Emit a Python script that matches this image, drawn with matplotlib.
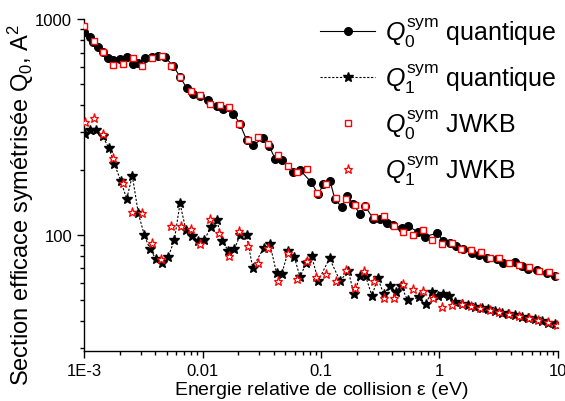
import numpy as np
import matplotlib
matplotlib.use("Agg")
import matplotlib.pyplot as plt
from matplotlib.ticker import LogLocator, FixedLocator, FixedFormatter, NullFormatter

plt.rcParams['font.family'] = ['Liberation Sans', 'DejaVu Sans']
plt.rcParams['mathtext.fontset'] = 'custom'
plt.rcParams['mathtext.rm'] = 'Liberation Sans'
plt.rcParams['mathtext.it'] = 'Liberation Sans:italic'
plt.rcParams['mathtext.bf'] = 'Liberation Sans:bold'

# Q0 sym, quantum calculation (energy in eV, cross section in A^2)
e_q0 = [0.001, 0.001124, 0.001198, 0.001313, 0.001455, 0.001604, 0.001757, 0.002013,
        0.002293, 0.002576, 0.002856, 0.003272, 0.003726, 0.004236, 0.004826, 0.005669,
        0.006458, 0.007355, 0.008365, 0.009526, 0.01119, 0.01318, 0.01498, 0.0182,
        0.02073, 0.02351, 0.02652, 0.03259, 0.03662, 0.04091, 0.0466, 0.05837,
        0.06649, 0.08233, 0.0949, 0.1046, 0.1191, 0.1313, 0.1495, 0.1667,
        0.1874, 0.2134, 0.2351, 0.2763, 0.3147, 0.3584, 0.4074, 0.4797,
        0.5453, 0.6586, 0.7545, 0.9581, 1.077, 1.226, 1.378, 1.588,
        1.87, 2.154, 2.502, 3.039, 3.454, 4.336, 4.939, 5.616,
        6.611, 8.028, 9.435]
q0_quant = [868, 823, 780, 742, 701, 659, 645, 653,
            669, 619, 625, 659, 669, 676, 664, 608,
            540, 479, 449, 441, 421, 396, 383, 365,
            326, 276, 261, 280, 257, 226, 223, 196,
            200, 176, 154, 172, 178, 146, 135, 152,
            139, 125, 136, 119, 118, 114, 111, 108,
            110, 103, 98.3, 102, 93.8, 91.5, 88.6, 85.8,
            82.3, 80.5, 78.6, 77.2, 74.5, 75.0, 71.8, 69.9,
            68.8, 66.9, 64.5]

# Q1 sym, quantum calculation
e_q1 = [0.00102, 0.001124, 0.001263, 0.001438, 0.001626, 0.001802, 0.00204, 0.002293,
        0.002556, 0.002873, 0.003228, 0.003606, 0.004052, 0.004552, 0.005144, 0.005781,
        0.006458, 0.007256, 0.008201, 0.009216, 0.01036, 0.01173, 0.01318, 0.01469,
        0.01651, 0.01855, 0.02073, 0.02351, 0.02652, 0.03304, 0.03712, 0.04212,
        0.0466, 0.05297, 0.0594, 0.06649, 0.07471, 0.08345, 0.0949, 0.118,
        0.1446, 0.17, 0.1899, 0.2134, 0.2375, 0.2694, 0.301, 0.3381,
        0.3822, 0.4296, 0.4733, 0.537, 0.6753, 0.762, 0.8597, 0.9676,
        1.077, 1.209, 1.351, 1.539, 1.75, 1.993, 2.27, 2.581,
        2.94, 3.349, 3.807, 4.336, 4.939, 5.616, 6.395, 7.286,
        8.285, 9.435]
q1_quant = [293, 307, 307, 286, 252, 214, 178, 147,
            188, 126, 99.7, 85.8, 77.2, 73.9, 79.4, 94.5,
            140, 105, 98.9, 93.8, 94.5, 109, 117, 93.8,
            84.3, 85.8, 99.7, 99.9, 70.6, 87.4, 90.5, 66.6,
            66.0, 84.3, 79.4, 63.8, 73.9, 79.6, 61.2, 78.0,
            61.2, 68.1, 53.1, 64.8, 64.7, 52.1, 63.4, 53.1,
            58.3, 54.2, 58.0, 50.0, 51.4, 47.7, 54.7, 52.0,
            53.1, 52.0, 48.9, 47.7, 47.2, 46.6, 46.1, 45.2,
            44.4, 43.7, 42.9, 42.4, 41.8, 41.4, 40.7, 39.9,
            39.3, 38.5]

# Q0 sym, JWKB
e_q0_jwkb = [0.001, 0.001214, 0.001455, 0.001767, 0.002121, 0.002576, 0.003068, 0.003726,
             0.004525, 0.00539, 0.006458, 0.00795, 0.009526, 0.01157, 0.01405, 0.01683,
             0.02044, 0.02444, 0.02957, 0.03592, 0.04311, 0.05236, 0.06236, 0.07571,
             0.09198, 0.1102, 0.1338, 0.1616, 0.1936, 0.2351, 0.2818, 0.3401,
             0.413, 0.4948, 0.601, 0.7215, 0.8697, 1.056, 1.268, 1.519,
             1.834, 2.227, 2.684, 3.196, 3.882, 4.714, 5.658, 6.873,
             8.348, 10.0]
q0_jwkb = [931, 788, 701, 614, 619, 657, 604, 659,
           674, 608, 540, 462, 446, 404, 401, 392,
           326, 274, 283, 263, 234, 209, 196, 203,
           156, 172, 148, 146, 138, 136, 121, 122,
           110, 103, 99.7, 105, 94.8, 90.5, 91.5, 85.8,
           85.2, 83.4, 78.2, 78.6, 74.5, 72.6, 71.4, 67.9,
           67.4, 64.5]

# Q1 sym, JWKB
e_q1_jwkb = [0.00102, 0.001214, 0.001455, 0.001767, 0.002121, 0.002556, 0.003105, 0.003726,
             0.004491, 0.005422, 0.006584, 0.007998, 0.009526, 0.01157, 0.01387, 0.01683,
             0.02044, 0.02435, 0.02957, 0.03592, 0.04311, 0.05236, 0.06236, 0.07571,
             0.09127, 0.1102, 0.1338, 0.1619, 0.1936, 0.232, 0.2818, 0.3376,
             0.41, 0.4948, 0.601, 0.7215, 0.873, 1.05, 1.268, 1.539,
             1.845, 2.197, 2.668, 3.196, 3.882, 4.687, 5.658, 6.821,
             8.285, 9.75]
q1_jwkb = [334, 348, 295, 228, 174, 128, 126, 91.5,
           77.2, 110, 110, 107, 91.2, 119, 102, 79.9,
           104, 88.9, 73.9, 87.4, 61.2, 82.5, 62.3, 76.1,
           63.9, 65.8, 61.2, 68.8, 57.0, 68.1, 60.9, 50.8,
           50.8, 59.1, 56.2, 55.0, 51.3, 46.4, 47.5, 48.1,
           46.9, 45.7, 44.8, 44.0, 43.2, 42.1, 41.1, 40.2,
           39.5, 38.1]

x_ticks = [1e-3, 1e-2, 1e-1, 1, 10]
x_ticklabels = ['1E-3', '0.01', '0.1', '1', '10']
y_ticks = [100, 1000]
y_ticklabels = ['100', '1000']

fig = plt.figure(figsize=(5.65, 4.02), dpi=100)
ax = fig.add_axes([0.1487, 0.1244, 0.8389, 0.8256])

ax.plot(e_q0, q0_quant, '-', color='black', lw=0.8, marker='o', ms=5.5,
        label=r'$Q_0^{\mathrm{sym}}$ quantique', zorder=2)
ax.plot(e_q1, q1_quant, color='black', lw=0.8, ls=(0, (2, 1.5)), marker='*', ms=7.5,
        label=r'$Q_1^{\mathrm{sym}}$ quantique', zorder=2)
ax.plot(e_q0_jwkb, q0_jwkb, ls='none', marker='s', ms=4.2, mfc='white', mec='red', mew=1.0,
        label=r'$Q_0^{\mathrm{sym}}$ JWKB', zorder=3)
ax.plot(e_q1_jwkb, q1_jwkb, ls='none', marker='*', ms=6.5, mfc='white', mec='red', mew=0.9,
        label=r'$Q_1^{\mathrm{sym}}$ JWKB', zorder=3)

ax.set_xscale('log')
ax.set_yscale('log')
ax.set_xlim(1e-3, 10)
ax.set_ylim(29, 1000)

ax.xaxis.set_major_locator(FixedLocator(x_ticks))
ax.xaxis.set_major_formatter(FixedFormatter(x_ticklabels))
ax.xaxis.set_minor_locator(LogLocator(base=10, subs=np.arange(2, 10)))
ax.xaxis.set_minor_formatter(NullFormatter())
ax.yaxis.set_major_locator(FixedLocator(y_ticks))
ax.yaxis.set_major_formatter(FixedFormatter(y_ticklabels))
ax.yaxis.set_minor_locator(LogLocator(base=10, subs=np.arange(2, 10)))
ax.yaxis.set_minor_formatter(NullFormatter())

for s in ['top', 'right']:
    ax.spines[s].set_visible(False)
for s in ['left', 'bottom']:
    ax.spines[s].set_linewidth(1.0)
ax.tick_params(which='major', direction='out', length=5, width=1.0, labelsize=12)
ax.tick_params(which='minor', direction='out', length=3, width=1.0)

ax.set_xlabel(r'Energie relative de collision $\mathrm{\varepsilon}$ (eV)', fontsize=14, labelpad=1)
ax.set_ylabel(r'Section efficace symétrisée Q$_0$, A$^2$', fontsize=17)
ax.yaxis.set_label_coords(-0.101, 0.443)

ax.legend(loc='upper right', bbox_to_anchor=(1.019, 1.039), frameon=False, fontsize=18,
          handlelength=2.2, handletextpad=0.4, labelspacing=0.51, borderaxespad=0.0)

fig.savefig('out.png', dpi=100)
